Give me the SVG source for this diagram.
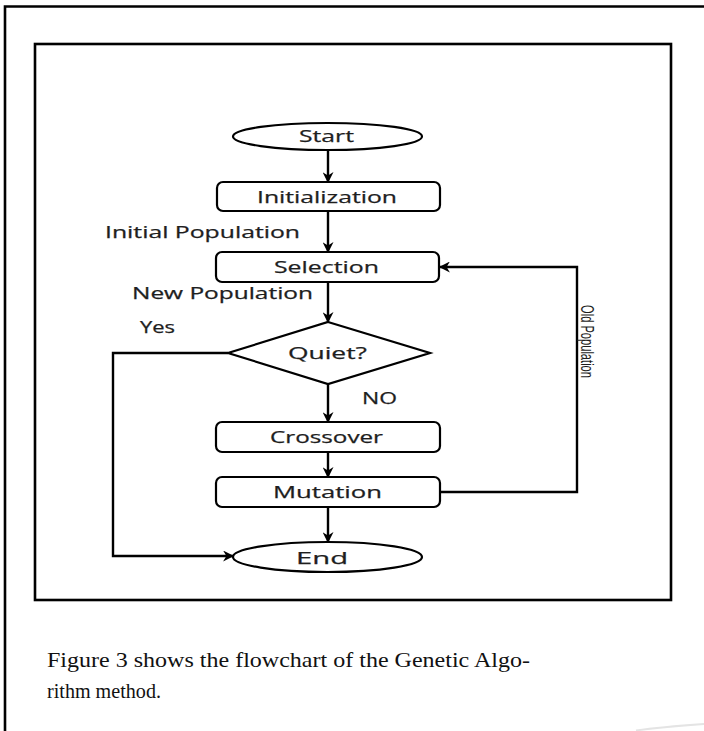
<svg xmlns="http://www.w3.org/2000/svg" width="704" height="731" viewBox="0 0 704 731">
<style>
.frame{fill:none;stroke:#000;stroke-width:2.6}
.shape{fill:#fff;stroke:#000;stroke-width:2.2}
.conn{fill:none;stroke:#000;stroke-width:2.4}
.lbl{font-family:"Open Sans","DejaVu Sans",sans-serif;font-size:16px;fill:#1e1e1e;stroke:#1e1e1e;stroke-width:0.25}
.node{font-family:"Open Sans","DejaVu Sans",sans-serif;font-size:17px;fill:#1e1e1e;stroke:#1e1e1e;stroke-width:0.25}
.cap{font-family:"Liberation Serif","DejaVu Serif",serif;font-size:21px;fill:#111}
</style>
<defs>
<marker id="arr" viewBox="0 0 10 10" refX="9" refY="5" markerWidth="11" markerHeight="11" markerUnits="userSpaceOnUse" orient="auto">
<path d="M0,0 L10,5 L0,10 L3,5 z" fill="#000"/>
</marker>
</defs>
<rect width="704" height="731" fill="#fff"/>
<path class="frame" d="M5,731 V6.5 H704"/>
<rect class="frame" x="35" y="44" width="636" height="556"/>

<g id="connectors">
<line class="conn" x1="328" y1="150" x2="328" y2="182" marker-end="url(#arr)"/>
<line class="conn" x1="328" y1="211" x2="328" y2="252" marker-end="url(#arr)"/>
<line class="conn" x1="328" y1="282" x2="328" y2="322" marker-end="url(#arr)"/>
<line class="conn" x1="328" y1="384" x2="328" y2="422" marker-end="url(#arr)"/>
<line class="conn" x1="328" y1="452" x2="328" y2="477" marker-end="url(#arr)"/>
<line class="conn" x1="328" y1="507" x2="328" y2="542" marker-end="url(#arr)"/>
<path class="conn" d="M228,353 H113 V556 H233" marker-end="url(#arr)"/>
<path class="conn" d="M440,492 H577 V267 H440" marker-end="url(#arr)"/>
</g>

<g id="start">
<ellipse class="shape" cx="327.5" cy="136.5" rx="94.5" ry="13.5"/>
<text class="node" x="299" y="142" font-size="16" textLength="55" lengthAdjust="spacingAndGlyphs">Start</text>
</g>
<g id="initialization">
<rect class="shape" x="217" y="182" width="223" height="29" rx="6"/>
<text class="node" x="257" y="203" textLength="140" lengthAdjust="spacingAndGlyphs">Initialization</text>
</g>
<g id="selection">
<rect class="shape" x="216" y="252" width="223" height="30" rx="6"/>
<text class="node" x="274" y="273" textLength="105" lengthAdjust="spacingAndGlyphs">Selection</text>
</g>
<g id="quiet">
<polygon class="shape" points="328,322 430,353 328,384 228,353"/>
<text class="node" x="288" y="359" textLength="79" lengthAdjust="spacingAndGlyphs">Quiet?</text>
</g>
<g id="crossover">
<rect class="shape" x="216" y="422" width="224" height="30" rx="6"/>
<text class="node" x="270" y="443" textLength="113" lengthAdjust="spacingAndGlyphs">Crossover</text>
</g>
<g id="mutation">
<rect class="shape" x="216" y="477" width="224" height="30" rx="6"/>
<text class="node" x="273" y="498" textLength="109" lengthAdjust="spacingAndGlyphs">Mutation</text>
</g>
<g id="end">
<ellipse class="shape" cx="327.5" cy="557" rx="94.5" ry="15"/>
<text class="node" x="296" y="564" font-size="21" textLength="52" lengthAdjust="spacingAndGlyphs">End</text>
</g>

<g id="labels">
<text class="lbl" x="105" y="238" textLength="195" lengthAdjust="spacingAndGlyphs">Initial Population</text>
<text class="lbl" x="132" y="299" textLength="181" lengthAdjust="spacingAndGlyphs">New Population</text>
<text class="lbl" x="140" y="333" textLength="35" lengthAdjust="spacingAndGlyphs">Yes</text>
<text class="lbl" x="362" y="404" textLength="35" lengthAdjust="spacingAndGlyphs">NO</text>
<text font-family="'Liberation Sans',Arial,sans-serif" font-size="18" fill="#1e1e1e" transform="translate(581,305) rotate(90)" textLength="73" lengthAdjust="spacingAndGlyphs">Old Population</text>
</g>

<g id="caption">
<text class="cap" x="47" y="667" textLength="483" lengthAdjust="spacingAndGlyphs">Figure 3 shows the flowchart of the Genetic Algo-</text>
<text class="cap" x="47" y="698" textLength="114" lengthAdjust="spacingAndGlyphs">rithm method.</text>
</g>
<path d="M636,730.5 Q660,727 704,724" fill="none" stroke="#e4e4e4" stroke-width="2"/>
</svg>
